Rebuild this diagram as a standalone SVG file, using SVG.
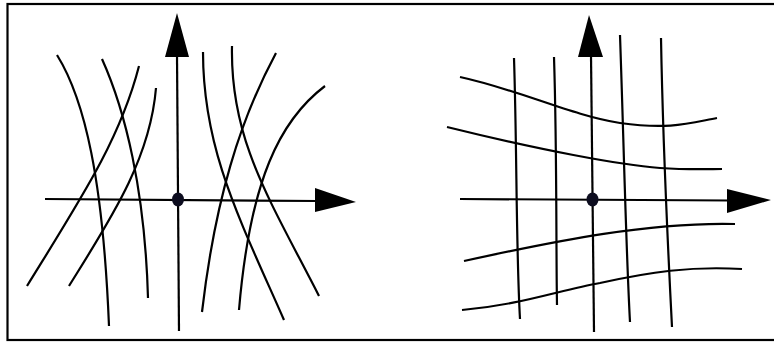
<svg xmlns="http://www.w3.org/2000/svg" width="774" height="345" viewBox="0 0 774 345">
<style>
.c{fill:none;stroke:#000;stroke-width:2.2;stroke-linecap:butt}
.ax{fill:none;stroke:#000;stroke-width:2.2}
.ah{fill:#000;stroke:none}
.dot{fill:#0d0d1f}
</style>
<rect x="0" y="0" width="774" height="345" fill="#fff"/>
<rect x="7.5" y="4" width="800" height="336" fill="none" stroke="#000" stroke-width="2.2"/>
<g id="left-panel">
<g id="left-curves">
<path class="c" d="M57,55 C85,100 103,180 109,326"/>
<path class="c" d="M102,59 C125,110 145,190 148,298"/>
<path class="c" d="M139,66 C120,140 80,200 27,286"/>
<path class="c" d="M156,88 C150,160 110,220 69,286"/>
<path class="c" d="M203,52 C203,150 240,220 284,320"/>
<path class="c" d="M232,46 C230,140 270,200 319,296"/>
<path class="c" d="M276,53 C240,120 215,200 202,312"/>
<path class="c" d="M325,86 C280,120 250,180 239,310"/>
</g>
<g id="left-axes">
<line class="ax" x1="45" y1="199" x2="318" y2="201"/>
<polygon class="ah" points="356,202 315,188 315,212"/>
<line class="ax" x1="179" y1="331" x2="177" y2="55"/>
<polygon class="ah" points="177,13 165,57 189,57"/>
<ellipse class="dot" cx="178" cy="199.5" rx="6" ry="7"/>
</g>
</g>
<g id="right-panel">
<g id="right-curves">
<path class="c" d="M514,58 C517,150 516,250 520,319"/>
<path class="c" d="M554,57 C557,150 556,250 557,305"/>
<path class="c" d="M620,35 C624,150 626,250 630,322"/>
<path class="c" d="M661,38 C663,150 668,250 672,327"/>
<path class="c" d="M460,77 C520,90 570,115 620,123 C670,130 690,123 717,118"/>
<path class="c" d="M447,127 C540,150 620,165 660,168 C690,170 710,169 722,169"/>
<path class="c" d="M464,261 C560,240 650,222 735,224"/>
<path class="c" d="M462,310 C520,305 560,290 600,283 C650,272 690,266 742,269"/>
</g>
<g id="right-axes">
<line class="ax" x1="460" y1="199" x2="730" y2="200.5"/>
<polygon class="ah" points="771,200 727,189 727,213"/>
<line class="ax" x1="594" y1="332" x2="591" y2="55"/>
<polygon class="ah" points="589,15 578,57 603,57"/>
<ellipse class="dot" cx="592.5" cy="199.5" rx="6" ry="7"/>
</g>
</g>
</svg>
